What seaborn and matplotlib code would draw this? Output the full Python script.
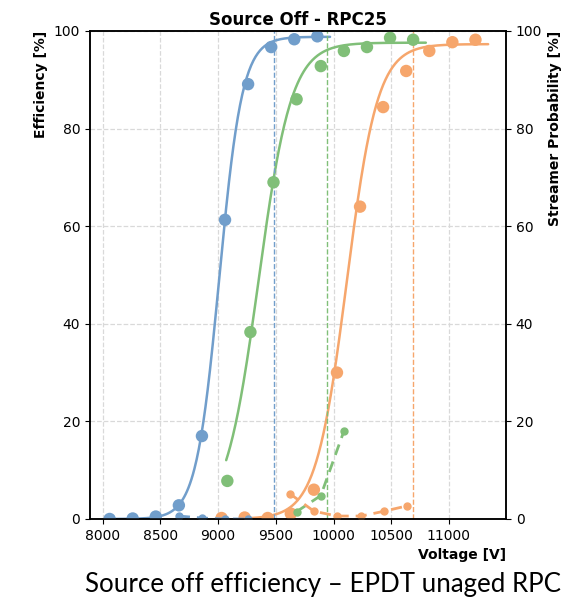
import numpy as np
import pandas as pd
import seaborn as sns
import matplotlib.pyplot as plt

sns.set_style("ticks", rc={"text.color": "black", "axes.labelcolor": "black",
                           "xtick.color": "black", "ytick.color": "black",
                           "axes.edgecolor": "black"})
plt.rcParams['font.family'] = ['DejaVu Sans']

# efficiency points
hv_blue = [8060, 8260, 8460, 8660, 8860, 9060, 9260, 9460, 9660, 9860]
eff_blue = [0.0, 0.1, 0.5, 2.8, 17.0, 61.3, 89.1, 96.7, 98.3, 98.9]
hv_green = [9080, 9280, 9480, 9680, 9890, 10090, 10290, 10490, 10690]
eff_green = [7.8, 38.3, 69.0, 86.0, 92.8, 95.9, 96.7, 98.6, 98.2]
hv_orange = [9030, 9230, 9430, 9630, 9830, 10030, 10230, 10430, 10630, 10830, 11030, 11230]
eff_orange = [0.2, 0.3, 0.2, 1.1, 6.0, 30.0, 64.0, 84.4, 91.8, 95.9, 97.7, 98.2]

# streamer probability points
st_hv_blue = [8660, 8860, 9060, 9260]
st_blue = [0.6, 0.2, 0.0, 0.0]
st_hv_green = [9680, 9890, 10090]
st_green = [1.5, 4.8, 18.0]
st_hv_orange = [9620, 9830, 10030, 10240, 10440, 10640]
st_orange = [5.2, 1.6, 0.6, 0.6, 1.6, 2.7]

# sigmoid fit parameters (plateau, slope, HV50) and fit ranges
fit_blue = (98.8, 0.0100, 9010, 8060, 9970)
fit_green = (97.6, 0.0070, 9350, 9070, 10800)
fit_orange = (97.3, 0.0075, 10115, 9280, 11340)

# working points
wp = [9483, 9940, 10689]

c_blue = "#719ecb"
c_green = "#80bf78"
c_orange = "#f6a66c"

fig = plt.figure(figsize=(5.77, 6.07), dpi=100)
ax = fig.add_axes([0.156, 0.145, 0.721, 0.804])
ax2 = ax.twinx()

def sigmoid_curve(p):
    emax, k, v50, lo, hi = p
    v = np.linspace(lo, hi, 300)
    return pd.DataFrame({"hv": v, "eff": emax / (1 + np.exp(-k * (v - v50)))})

sets = [
    (hv_blue, eff_blue, st_hv_blue, st_blue, fit_blue, c_blue),
    (hv_green, eff_green, st_hv_green, st_green, fit_green, c_green),
    (hv_orange, eff_orange, st_hv_orange, st_orange, fit_orange, c_orange),
]

for hv, eff, shv, st, fit, col in sets:
    d = pd.DataFrame({"hv": hv, "eff": eff})
    sns.scatterplot(data=d, x="hv", y="eff", ax=ax, color=col, s=80,
                    edgecolor="none", zorder=3)
    sns.lineplot(data=sigmoid_curve(fit), x="hv", y="eff", ax=ax, color=col,
                 linewidth=1.8, zorder=2)
    ds = pd.DataFrame({"hv": shv, "st": st})
    ax2.plot(ds["hv"], ds["st"], color=col, linestyle="--", linewidth=2.0,
             marker="o", markersize=5, dashes=(4, 2.5))

for v, col in zip(wp, [c_blue, c_green, c_orange]):
    ax.axvline(v, color=col, linestyle="--", linewidth=1.0, zorder=2.5)

ax.set_xlim(7890, 11495)
ax.set_ylim(0, 100)
ax2.set_ylim(0, 100)
ax.set_xticks(range(8000, 11001, 500))
ax.set_yticks(range(0, 101, 20))
ax2.set_yticks(range(0, 101, 20))
ax.grid(True, linestyle="--", color="#d9d9d9", linewidth=0.9)
ax.tick_params(labelsize=10)
ax2.tick_params(labelsize=10)

ax.set_xlabel("Voltage [V]", fontweight="bold", loc="right", fontsize=10)
ax.set_ylabel("Efficiency [%]", fontweight="bold", loc="top", fontsize=10)
ax2.set_ylabel("Streamer Probability [%]", fontweight="bold", loc="top", fontsize=10)
ax.set_title("Source Off - RPC25", fontweight="bold", fontsize=12, pad=4)

for a in (ax, ax2):
    for s in a.spines.values():
        s.set_linewidth(1.1)

fig.text(0.148, 0.025, "Source off efficiency \u2013 EPDT unaged RPC",
         fontsize=18.6, family=["Lato", "DejaVu Sans"], ha="left", va="baseline")

fig.savefig("out.png", dpi=100)
